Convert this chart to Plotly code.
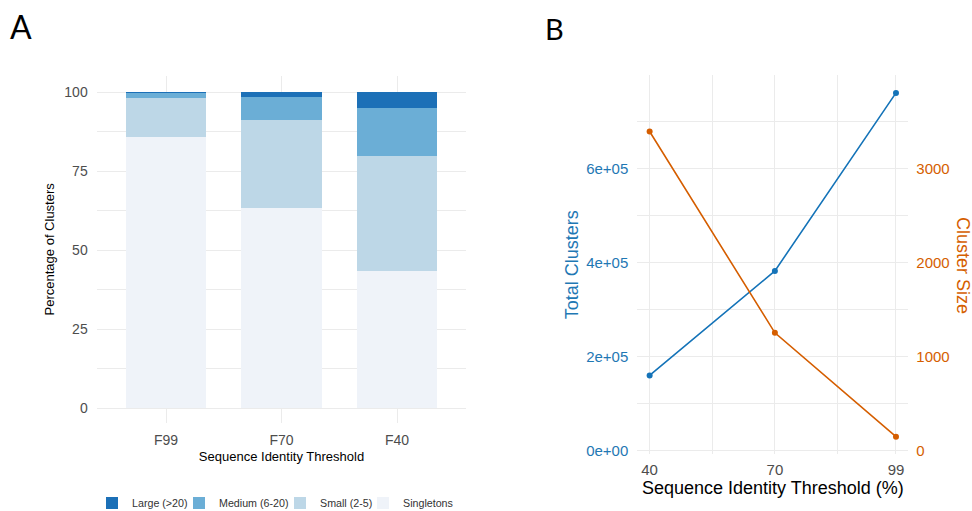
import plotly.graph_objects as go

# ---- Panel A data ----
categories = ["F99", "F70", "F40"]
singletons = [85.9, 63.4, 43.6]
small = [12.4, 28.0, 36.2]
medium = [1.6, 7.2, 15.3]
large = [0.1, 1.4, 4.9]
seg_names = ["Singletons", "Small (2-5)", "Medium (6-20)", "Large (>20)"]
seg_colors = ["#eff3f9", "#bdd7e7", "#6baed6", "#1c70b7"]

# ---- Panel B data ----
thresholds = [40, 70, 99]
total_clusters = [160000, 382000, 760000]
cluster_size = [3390, 1253, 150]
x_ticks = [40, 70, 99]
y_ticks = [0, 200000, 400000, 600000]
y_ticklabels = ["0e+00", "2e+05", "4e+05", "6e+05"]
y2_ticks = [0, 1000, 2000, 3000]

blue = "#1f78b4"
line_blue = "#1473b8"
orange = "#d55e00"
grid = "#ebebeb"
font_fam = "Liberation Sans, Arial, sans-serif"

W, H = 972, 511
def px(x):
    return x / W
def py(y):
    return 1 - y / H

# one legend per entry so entries sit where the reference has them
legend_ids = ["legend4", "legend3", "legend2", "legend"]
legend_left = [363, 280, 179, 92]

fig = go.Figure()

for name, vals, col, lid in zip(seg_names, [singletons, small, medium, large], seg_colors, legend_ids):
    fig.add_trace(go.Bar(x=categories, y=vals, name=name, marker=dict(color=col, line=dict(width=0)),
                         width=0.7, xaxis="x", yaxis="y", legend=lid))

fig.add_trace(go.Scatter(x=thresholds, y=total_clusters, mode="lines+markers",
                         line=dict(color=line_blue, width=1.6), marker=dict(color=line_blue, size=6),
                         showlegend=False, xaxis="x2", yaxis="y2"))
fig.add_trace(go.Scatter(x=thresholds, y=cluster_size, mode="lines+markers",
                         line=dict(color=orange, width=1.6), marker=dict(color=orange, size=6),
                         showlegend=False, xaxis="x2", yaxis="y3"))

yb_lo, yb_hi = -7400, 798000

legend_style = dict(orientation="h", xanchor="left", y=py(503), yanchor="middle",
                    font=dict(size=10.7, color="#333333"), itemwidth=30, bgcolor="rgba(0,0,0,0)")
legends = {}
for lid, lx in zip(legend_ids, legend_left):
    legends[lid] = dict(legend_style, x=px(lx))

fig.update_layout(
    width=W, height=H,
    margin=dict(l=0, r=0, t=0, b=0, autoexpand=False),
    paper_bgcolor="white", plot_bgcolor="white",
    font=dict(family=font_fam, color="#4d4d4d"),
    barmode="stack",
    bargap=0.3,
    xaxis=dict(domain=[px(96.7), px(466.3)], range=[-0.6, 2.6], showgrid=True, gridcolor=grid, gridwidth=1,
               zeroline=False, showline=False, tickfont=dict(size=14, color="#4d4d4d"),
               ticks="", ticklabelstandoff=7, automargin=False,
               title=dict(text="Sequence Identity Threshold", font=dict(size=13, color="black"), standoff=5)),
    yaxis=dict(domain=[py(422.7), py(76)], range=[-4.6, 105.2], tickvals=[0, 25, 50, 75, 100],
               showgrid=True, gridcolor=grid, gridwidth=1, zeroline=False, showline=False,
               minor=dict(tickvals=[12.5, 37.5, 62.5, 87.5], showgrid=True, gridcolor=grid, gridwidth=1),
               tickfont=dict(size=14, color="#4d4d4d"), ticks="", ticklabelstandoff=8, automargin=False,
               title=dict(text="Percentage of Clusters", font=dict(size=13, color="black"), standoff=6)),
    xaxis2=dict(domain=[px(637.3), px(908.3)], range=[37.05, 101.95], tickvals=x_ticks,
                showgrid=True, gridcolor=grid, gridwidth=1, zeroline=False, showline=False,
                minor=dict(tickvals=[55, 85], showgrid=True, gridcolor=grid, gridwidth=1),
                tickfont=dict(size=15, color="#4d4d4d"), ticks="", ticklabelstandoff=5,
                anchor="y2", automargin=False,
                title=dict(text="Sequence Identity Threshold (%)", font=dict(size=18, color="black"), standoff=2)),
    yaxis2=dict(domain=[py(454.3), py(75)], range=[yb_lo, yb_hi], tickvals=y_ticks, ticktext=y_ticklabels,
                showgrid=True, gridcolor=grid, gridwidth=1, zeroline=False, showline=False,
                minor=dict(tickvals=[100000, 300000, 500000, 700000], showgrid=True, gridcolor=grid, gridwidth=1),
                tickfont=dict(size=15, color=blue), ticks="", ticklabelstandoff=8, anchor="x2", automargin=False,
                title=dict(text="Total Clusters", font=dict(size=18, color=blue), standoff=2)),
    yaxis3=dict(overlaying="y2", side="right", range=[yb_lo / 200, yb_hi / 200], tickvals=y2_ticks,
                showgrid=False, zeroline=False, showline=False, anchor="x2", automargin=False,
                tickfont=dict(size=15, color=orange), ticks="", ticklabelstandoff=7),
    annotations=[
        dict(text="A", x=px(21), y=py(26), xref="paper", yref="paper", showarrow=False,
             xanchor="center", yanchor="middle",
             font=dict(size=32, color="black", family="Lato, sans-serif")),
        dict(text="B", x=px(554), y=py(28), xref="paper", yref="paper", showarrow=False,
             xanchor="center", yanchor="middle",
             font=dict(size=29, color="black", family="Lato, sans-serif")),
        dict(text="Cluster Size", x=px(963), y=py(265), xref="paper", yref="paper", showarrow=False,
             xanchor="center", yanchor="middle",
             textangle=90, font=dict(size=18, color=orange)),
    ],
    **legends,
)

fig.write_html("out.html", post_script="document.body.style.margin='0';",
               config={"displayModeBar": False})
